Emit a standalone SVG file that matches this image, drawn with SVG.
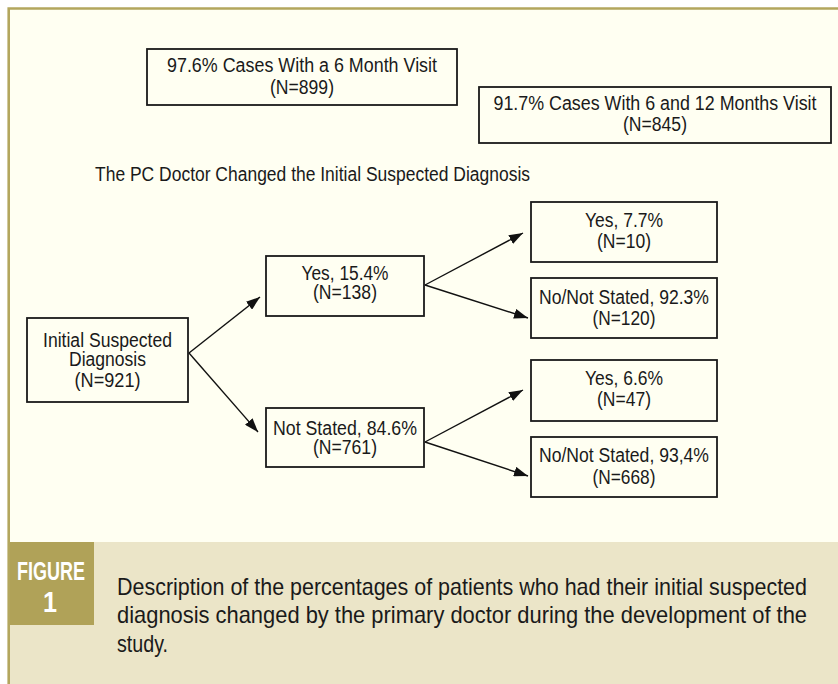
<svg xmlns="http://www.w3.org/2000/svg" width="838" height="684" viewBox="0 0 838 684">
  <defs>
    <style>
      .box { fill: none; stroke: #1a1a1a; stroke-width: 1.8; }
      .t { font-family: "Liberation Sans Narrow", "Liberation Sans", Arial, sans-serif; font-size: 20px; fill: #1a1a1a; text-anchor: middle; }
      .cap { font-family: "Liberation Sans Narrow", "Liberation Sans", Arial, sans-serif; font-size: 24px; fill: #1a1a1a; }
      .fig { font-family: "Liberation Sans Narrow", "Liberation Sans", Arial, sans-serif; font-weight: bold; fill: #ffffff; text-anchor: middle; }
      .conn { stroke: #111; stroke-width: 1.4; fill: none; marker-end: url(#arrow); }
    </style>
    <marker id="arrow" viewBox="0 0 14 10" refX="14" refY="5" markerWidth="14" markerHeight="10" markerUnits="userSpaceOnUse" orient="auto">
      <path d="M0,0 L14,5 L0,10 z" fill="#111"/>
    </marker>
  </defs>

  <!-- background and frame -->
  <rect x="0" y="0" width="838" height="684" fill="#ffffff"/>
  <rect x="8" y="8" width="830" height="676" fill="#fffff2"/>
  <rect x="9" y="542" width="829" height="142" fill="#ebe5c8"/>
  <path d="M8.7,684 L8.7,8.5 L838,8.5" fill="none" stroke="#b3a65d" stroke-width="2.6"/>

  <g id="box-6month">
    <rect class="box" x="147" y="49" width="310" height="56"/>
    <text class="t" x="302" y="72" textLength="270" lengthAdjust="spacingAndGlyphs">97.6% Cases With a 6 Month Visit</text>
    <text class="t" x="302" y="94" textLength="64" lengthAdjust="spacingAndGlyphs">(N=899)</text>
  </g>

  <g id="box-12month">
    <rect class="box" x="479" y="87" width="352" height="56"/>
    <text class="t" x="655" y="110" textLength="323" lengthAdjust="spacingAndGlyphs">91.7% Cases With 6 and 12 Months Visit</text>
    <text class="t" x="655" y="131" textLength="64" lengthAdjust="spacingAndGlyphs">(N=845)</text>
  </g>

  <g id="title">
    <text class="t" x="95" y="181" style="text-anchor:start" textLength="435" lengthAdjust="spacingAndGlyphs">The PC Doctor Changed the Initial Suspected Diagnosis</text>
  </g>

  <g id="initial">
    <rect class="box" x="27" y="318" width="161" height="84"/>
    <text class="t" x="107.5" y="347" textLength="129" lengthAdjust="spacingAndGlyphs">Initial Suspected</text>
    <text class="t" x="107.5" y="366" textLength="77" lengthAdjust="spacingAndGlyphs">Diagnosis</text>
    <text class="t" x="107.5" y="387" textLength="66" lengthAdjust="spacingAndGlyphs">(N=921)</text>
  </g>

  <g id="yes-154">
    <rect class="box" x="266" y="256" width="158" height="60"/>
    <text class="t" x="345" y="280" textLength="87" lengthAdjust="spacingAndGlyphs">Yes, 15.4%</text>
    <text class="t" x="345" y="299" textLength="64" lengthAdjust="spacingAndGlyphs">(N=138)</text>
  </g>

  <g id="notstated-846">
    <rect class="box" x="266" y="408" width="158" height="59"/>
    <text class="t" x="345" y="435" textLength="144" lengthAdjust="spacingAndGlyphs">Not Stated, 84.6%</text>
    <text class="t" x="345" y="454" textLength="64" lengthAdjust="spacingAndGlyphs">(N=761)</text>
  </g>

  <g id="yes-77">
    <rect class="box" x="531" y="202" width="186" height="60"/>
    <text class="t" x="624" y="227" textLength="78" lengthAdjust="spacingAndGlyphs">Yes, 7.7%</text>
    <text class="t" x="624" y="248" textLength="54" lengthAdjust="spacingAndGlyphs">(N=10)</text>
  </g>

  <g id="no-923">
    <rect class="box" x="531" y="278" width="186" height="60"/>
    <text class="t" x="624" y="304" textLength="170" lengthAdjust="spacingAndGlyphs">No/Not Stated, 92.3%</text>
    <text class="t" x="624" y="325" textLength="63" lengthAdjust="spacingAndGlyphs">(N=120)</text>
  </g>

  <g id="yes-66">
    <rect class="box" x="531" y="360" width="186" height="61"/>
    <text class="t" x="624" y="385" textLength="78" lengthAdjust="spacingAndGlyphs">Yes, 6.6%</text>
    <text class="t" x="624" y="406" textLength="54" lengthAdjust="spacingAndGlyphs">(N=47)</text>
  </g>

  <g id="no-934">
    <rect class="box" x="531" y="437" width="186" height="60"/>
    <text class="t" x="624" y="462" textLength="170" lengthAdjust="spacingAndGlyphs">No/Not Stated, 93,4%</text>
    <text class="t" x="624" y="484" textLength="63" lengthAdjust="spacingAndGlyphs">(N=668)</text>
  </g>

  <g id="connectors">
    <line class="conn" x1="189" y1="353" x2="260" y2="297"/>
    <line class="conn" x1="189" y1="353" x2="258" y2="432"/>
    <line class="conn" x1="425" y1="285" x2="523" y2="233"/>
    <line class="conn" x1="425" y1="285" x2="528" y2="318"/>
    <line class="conn" x1="425" y1="442" x2="523" y2="390"/>
    <line class="conn" x1="425" y1="442" x2="528" y2="476"/>
  </g>

  <g id="caption">
    <rect x="10" y="542" width="84" height="83" fill="#b0a258"/>
    <text class="fig" x="51" y="580" font-size="25" textLength="68" lengthAdjust="spacingAndGlyphs">FIGURE</text>
    <text class="fig" x="50" y="612" font-size="30" textLength="14" lengthAdjust="spacingAndGlyphs">1</text>
    <text class="cap" x="117" y="595" textLength="690" lengthAdjust="spacingAndGlyphs">Description of the percentages of patients who had their initial suspected</text>
    <text class="cap" x="117" y="623" textLength="690" lengthAdjust="spacingAndGlyphs">diagnosis changed by the primary doctor during the development of the</text>
    <text class="cap" x="117" y="652" textLength="51" lengthAdjust="spacingAndGlyphs">study.</text>
  </g>
</svg>
